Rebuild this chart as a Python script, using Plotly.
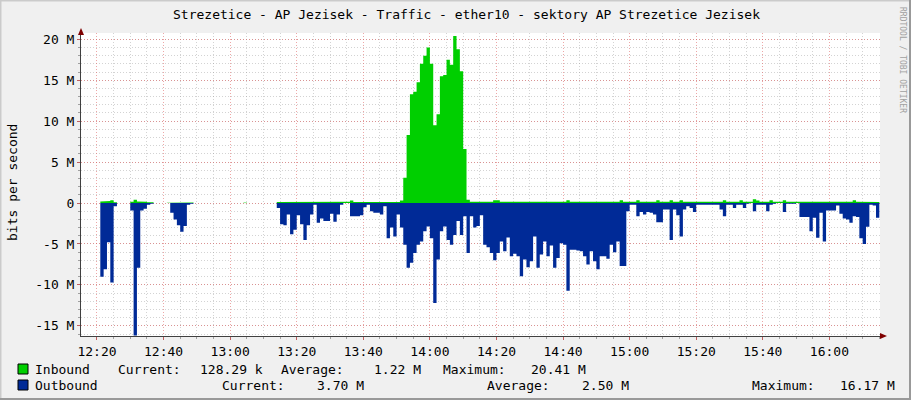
import plotly.graph_objects as go
from datetime import datetime, timedelta

N = None
# Minute-by-minute samples starting at 12:21 (values in Mbit/s)
inbound = (
    [0.2, 0.2, 0.25, 0.35, 0.1] + [N]*4 +
    [0.15, 0.4, 0.2, 0.15, 0.15, 0.1, 0.1] + [N]*4 +
    [0.05] + [0.08]*7 + [N]*15 + [0.05] + [N]*9 +
    # m54 .. m91
    [0.12]*20 + [0.1, 0.15, 0.3] + [0.12]*14 + [0.3] +
    # m92 .. m112 (traffic peak)
    [3.1, 8.3, 13.3, 13.6, 14.75, 17.0, 18.0, 19.0, 17.0, 9.5, 10.85,
     15.5, 15.65, 17.5, 16.9, 20.41, 18.8, 16.1, 6.6, 0.4, 0.15] +
    # m113 .. m234
    [0.15]*6 + [0.35, 0.35] + [0.15]*20 + [0.35] + [0.15]*15 + [0.35] +
    [0.15]*4 + [0.35] + [0.15]*5 + [0.35] + [0.15]*3 + [0.35] + [0.15]*2 +
    [0.35] + [0.15]*12 + [0.35] + [0.15]*4 + [0.35] + [0.15]*3 +
    [0.45, 0.3] + [0.15]*3 + [0.35] + [0.15]*3 + [0.35] + [0.15]*20 +
    [0.35] + [0.15]*6 + [0.13]
)
outbound = (
    [9.0, 8.1, 4.8, 9.7, 0.4] + [N]*4 +
    [0.9, 16.17, 7.9, 0.9, 0.7, 0.2, 0.1] + [N]*4 +
    [0.0] + [1.2, 2.0, 2.7, 3.5, 2.8, 0.2, 0.1] + [N]*15 + [0.0] + [N]*9 +
    # m54 .. m91
    [0.6, 2.6, 2.7, 1.4, 3.8, 3.25, 1.5, 2.6, 4.5, 2.7, 1.4, 0.2, 2.4, 1.9,
     2.2, 2.2, 1.3, 2.3, 1.4, 0.2, 0.0, 0.0, 1.6, 1.6, 1.6, 1.5, 0.5, 0.2,
     1.0, 1.2, 1.2, 1.4, 0.4, 4.3, 3.0, 4.1, 1.4, 3.0] +
    # m92 .. m158
    [5.1, 7.9, 7.3, 6.1, 5.1, 4.7, 3.45, 2.85, 4.3, 12.2, 6.9, 3.45, 2.85,
     4.5, 5.1, 3.9, 2.2, 3.9, 1.6, 6.1, 1.6, 3.0, 2.8, 1.5, 5.1, 5.4, 6.1,
     7.0, 6.1, 4.7, 5.9, 4.2, 6.5, 6.2, 6.5, 8.95, 6.9, 7.85, 7.1, 4.1, 7.9,
     6.3, 4.7, 6.5, 5.2, 7.9, 6.7, 4.9, 5.1, 10.7, 5.7, 5.7, 5.8, 5.9, 6.5,
     7.5, 5.9, 7.1, 8.1, 6.5, 6.5, 6.8, 5.1, 6.0, 4.7, 7.7, 7.7] +
    # m159 .. m234
    [1.0, 0.2, 0.2, 1.6, 1.1, 1.4, 1.1, 1.2, 1.4, 2.35, 2.35, 0.8, 0.8, 4.5,
     0.8, 1.5, 4.1, 0.8, 0.4, 0.6, 1.1] + [0.2]*7 +
    [0.8, 1.6, 0.2, 0.2, 0.6, 0.2, 0.2, 0.6, 0.1, N, 1.0, 0.2, 0.2, 0.2, 1.0,
     0.2, 0.1, N, N, 1.1, 0.1, 0.1, 0.1, N, 1.7, 1.7, 1.7, 3.45, 1.8, 4.25,
     1.2, 4.7, 0.9, 0.9, 0.9, 0.3, 1.3, 1.9, 2.0, 2.4, 1.6, 1.7, 4.3, 5.0,
     2.9, 0.2, 0.3, 1.8]
)

y_ticks = [-15, -10, -5, 0, 5, 10, 15, 20]
y_tick_labels = ["-15 M", "-10 M", "-5 M", "0", "5 M", "10 M", "15 M", "20 M"]

title = "Strezetice - AP Jezisek - Traffic - ether10 - sektory AP Strezetice Jezisek"
legend_rows = [
    ("Inbound", "#00CF00", [("Current:", 116), ("128.29 k", 198), ("Average:", 279),
                            ("1.22 M", 372), ("Maximum:", 441), ("20.41 M", 529)]),
    ("Outbound", "#002A97", [("Current:", 220), ("3.70 M", 315), ("Average:", 485),
                             ("2.50 M", 580), ("Maximum:", 750), ("16.17 M", 838)]),
]

start = datetime(2024, 1, 1, 12, 21)
one = timedelta(minutes=1)


def segments(vals, sign):
    """Split the series at unknown samples into step-shaped runs."""
    runs, xs, ys = [], [], []
    for i, v in enumerate(vals):
        t0 = start + i * one
        if v is None:
            if xs:
                runs.append((xs, ys))
            xs, ys = [], []
        else:
            xs += [t0, t0 + one]
            ys += [sign * v, sign * v]
    if xs:
        runs.append((xs, ys))
    return runs


W, H = 911, 400
L, R, T, B = 81, 880, 33, 336
FONT = "DejaVu Sans Mono"


def px(x):
    return (x - L) / (R - L)


def py(y):
    return (B - y) / (B - T)


fig = go.Figure()
for vals, sign, color in ((inbound, 1, "#00CF00"), (outbound, -1, "#002A97")):
    for xs, ys in segments(vals, sign):
        fig.add_trace(go.Scatter(x=xs, y=ys, mode="lines", line=dict(width=0, color=color),
                                 fill="tozeroy", fillcolor=color,
                                 hoverinfo="skip", showlegend=False))

x0 = datetime(2024, 1, 1, 12, 15, 12)
x1 = datetime(2024, 1, 1, 16, 15, 12)

MGRID = "rgba(222,95,95,0.55)"
GRID = "rgba(140,140,140,0.38)"

fig.update_layout(
    width=W, height=H,
    margin=dict(l=L, r=W - R, t=T, b=H - B, pad=0, autoexpand=False),
    paper_bgcolor="#F0F0F0", plot_bgcolor="#FFFFFF",
    font=dict(family=FONT, size=13, color="#000000"),
    showlegend=False,
    xaxis=dict(
        type="date", range=[x0, x1], tick0=datetime(2024, 1, 1, 12, 20), dtick=20 * 60000,
        tickformat="%H:%M", showgrid=True, gridcolor=MGRID,
        griddash="1px,2px", gridwidth=1, zeroline=False, automargin=False,
        showline=True, linecolor="#404040", linewidth=1,
        ticks="outside", ticklen=3, tickcolor="#C06060",
        tickfont=dict(family=FONT, size=13),
        minor=dict(dtick=5 * 60000, showgrid=True, gridcolor=GRID,
                   griddash="1px,2px", ticks="outside", ticklen=2, tickcolor="#A0A0A0"),
        fixedrange=True,
    ),
    yaxis=dict(
        range=[-16.24, 20.77], tickvals=y_ticks, ticktext=y_tick_labels,
        showgrid=True, gridcolor=MGRID, griddash="1px,2px", automargin=False,
        zeroline=False, showline=True, linecolor="#404040", linewidth=1,
        ticks="outside", ticklen=3, tickcolor="#C06060",
        tickfont=dict(family=FONT, size=13),
        minor=dict(dtick=1, tick0=0, showgrid=True, gridcolor=GRID,
                   griddash="1px,2px", ticks="outside", ticklen=2, tickcolor="#A0A0A0"),
        fixedrange=True,
    ),
)

ann = []
shapes = []
ann.append(dict(text=title, x=px(466), y=py(14), xref="paper", yref="paper",
                xanchor="center", yanchor="middle", showarrow=False,
                font=dict(family=FONT, size=13, color="#000000")))
ann.append(dict(text="bits per second", x=px(12), y=py(183), xref="paper", yref="paper",
                xanchor="center", yanchor="middle", showarrow=False, textangle=-90,
                font=dict(family=FONT, size=13, color="#000000")))
ann.append(dict(text="RRDTOOL / TOBI OETIKER", x=px(902), y=py(60), xref="paper",
                yref="paper", xanchor="center", yanchor="middle", showarrow=False,
                textangle=90, font=dict(family=FONT, size=8, color="#A0A0A0")))

for row, (name, color, items) in enumerate(legend_rows):
    yc = 369 + row * 16
    shapes.append(dict(type="rect", xref="paper", yref="paper",
                       x0=px(18), x1=px(28), y0=py(yc - 5), y1=py(yc + 5),
                       fillcolor=color, line=dict(color="#000000", width=1)))
    ann.append(dict(text=name, x=px(33), y=py(yc), xref="paper", yref="paper",
                    xanchor="left", yanchor="middle", showarrow=False,
                    font=dict(family=FONT, size=13, color="#000000")))
    for txt, xx in items:
        ann.append(dict(text=txt, x=px(xx), y=py(yc), xref="paper", yref="paper",
                        xanchor="left", yanchor="middle", showarrow=False,
                        font=dict(family=FONT, size=13, color="#000000")))

# axis arrows
shapes.append(dict(type="path", xref="paper", yref="paper",
                   path=f"M {px(78)} {py(35)} L {px(84)} {py(35)} L {px(81)} {py(28)} Z",
                   fillcolor="#7F0000", line=dict(width=0)))
shapes.append(dict(type="path", xref="paper", yref="paper",
                   path=f"M {px(880)} {py(333)} L {px(880)} {py(339)} L {px(887)} {py(336)} Z",
                   fillcolor="#7F0000", line=dict(width=0)))
# frame shading
shapes.append(dict(type="line", xref="paper", yref="paper", x0=px(0), x1=px(W),
                   y0=py(0.5), y1=py(0.5), line=dict(color="#CBCBCB", width=2)))
shapes.append(dict(type="line", xref="paper", yref="paper", x0=px(0.5), x1=px(0.5),
                   y0=py(0), y1=py(H), line=dict(color="#CBCBCB", width=2)))
shapes.append(dict(type="line", xref="paper", yref="paper", x0=px(W - 1), x1=px(W - 1),
                   y0=py(0), y1=py(H), line=dict(color="#999999", width=2)))
shapes.append(dict(type="line", xref="paper", yref="paper", x0=px(0), x1=px(W),
                   y0=py(H - 1), y1=py(H - 1), line=dict(color="#999999", width=2)))

fig.update_layout(annotations=ann, shapes=shapes)
fig.write_html("out.html", config={"displayModeBar": False},
               post_script="document.body.style.margin='0';document.body.style.padding='0';")
